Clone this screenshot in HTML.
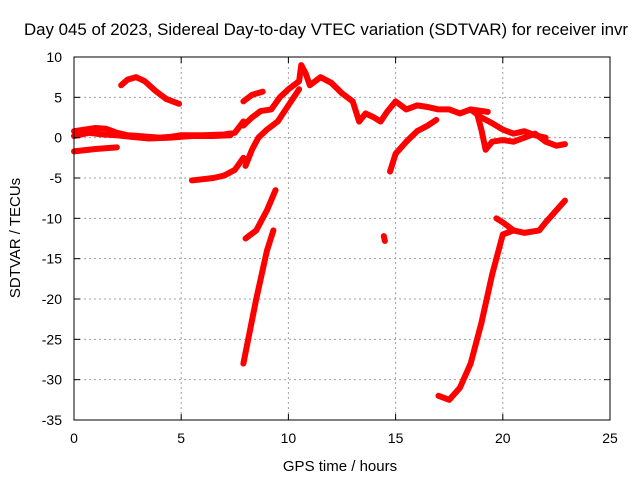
<!DOCTYPE html>
<html><head><meta charset="utf-8"><style>
body{margin:0;background:#fff;}
svg{display:block;font-family:"Liberation Sans",sans-serif;}
</style></head><body>
<svg id="chart" width="640" height="480">
<rect width="640" height="480" fill="#fff"/>
<text x="326" y="35" font-size="16.8" text-anchor="middle" textLength="604" lengthAdjust="spacingAndGlyphs">Day 045 of 2023, Sidereal Day-to-day VTEC variation (SDTVAR) for receiver invr</text>
<text x="340" y="471" font-size="15" text-anchor="middle">GPS time / hours</text>
<text transform="translate(20,238) rotate(-90)" font-size="15" text-anchor="middle">SDTVAR / TECUs</text>
<g id="grid"></g><g id="series"></g><g id="axes"></g>
</svg>
<script>
const xTicks=[0,5,10,15,20,25];
const yTicks=[10,5,0,-5,-10,-15,-20,-25,-30,-35];
const seg1=[[0,0.8],[0.5,1],[1,1.2],[1.5,1.1],[2,0.6],[2.5,0.3],[3,0.2],[3.5,0.1],[4,0],[4.5,0.1],[5,0.3],[6,0.3],[7,0.4],[7.5,0.6],[7.9,2]];
const seg2=[[0,0.2],[0.7,0.6],[1.3,0.4],[2,0.3],[2.7,0.1],[3.5,-0.1],[4.5,0],[5.5,0.2],[6.5,0.2],[7.3,0.3]];
const seg3=[[0,-1.7],[1,-1.4],[2,-1.2]];
const seg4=[[2.2,6.5],[2.5,7.2],[2.9,7.5],[3.3,7.0],[3.8,5.8],[4.3,4.8],[4.9,4.2]];
const seg5=[[5.5,-5.3],[6.5,-5],[7,-4.7],[7.5,-4],[7.9,-2.5]];
const seg6=[[7.9,4.5],[8.3,5.3],[8.8,5.7]];
const seg7=[[8,-3.5],[8.3,-1.5],[8.6,0],[9,1],[9.5,2],[10,4],[10.5,6]];
const seg8=[[7.9,1.5],[8.3,2.5],[8.7,3.3],[9.2,3.5],[9.6,5],[10,6],[10.5,7],[10.6,9],[10.8,8],[11,6.5],[11.5,7.5],[12,6.8],[12.5,5.5],[13,4.5],[13.3,2],[13.6,3],[14,2.5],[14.3,2],[14.6,3.2],[15,4.5],[15.5,3.5],[16,4],[16.5,3.8],[17,3.5],[17.5,3.5],[18,3],[18.5,3.5],[19.3,3.2]];
const seg9=[[14.74,-4.2],[15,-2],[15.5,-0.5],[16,0.8],[16.5,1.5],[16.9,2.2]];
const seg10=[[18.8,3],[19,1],[19.2,-1.5],[19.5,-0.5],[20,-0.3],[20.5,-0.5],[21,0],[21.5,0.5],[22,-0.5],[22.5,-1],[22.9,-0.8]];
const seg11=[[18.5,3.5],[19,2.5],[19.5,1.8],[20,1],[20.5,0.5],[21,0.8],[21.5,0.3],[22,0]];
const seg12=[[8,-12.5],[8.5,-11.5],[9,-9],[9.4,-6.5]];
const seg13=[[7.9,-28],[8.5,-20],[9,-14],[9.3,-11.5]];
const seg14=[[14.45,-12.2],[14.5,-12.8]];
const seg15=[[17,-32],[17.5,-32.5],[18,-31],[18.5,-28],[19,-23],[19.5,-17],[20,-12],[20.5,-11.5]];
const seg16=[[19.7,-10],[20,-10.5],[20.5,-11.5],[21,-11.8],[21.7,-11.5],[22,-10.5],[22.5,-9],[22.9,-7.8]];
const segments=[seg1,seg2,seg3,seg4,seg5,seg6,seg7,seg8,seg9,seg10,seg11,seg12,seg13,seg14,seg15,seg16];

const X0=74,X1=610,Y0=57,Y1=420;
const xs=v=>X0+(v-0)/(25-0)*(X1-X0);
const ys=v=>Y0+(10-v)/(10+35)*(Y1-Y0);
const NS="http://www.w3.org/2000/svg";
const grid=document.getElementById('grid'),axes=document.getElementById('axes'),ser=document.getElementById('series');
function mk(tag,attrs,parent){const e=document.createElementNS(NS,tag);for(const k in attrs)e.setAttribute(k,attrs[k]);parent.appendChild(e);return e;}
xTicks.forEach(t=>{
  const x=xs(t);
  if(t>0&&t<25){const g=mk('line',{x1:x,x2:x,y1:Y0,y2:Y1,stroke:'#a0a0a0','stroke-dasharray':'2,3'},grid);
  
  }
  mk('line',{x1:x,x2:x,y1:Y1,y2:Y1-6,stroke:'#000'},axes);
  mk('line',{x1:x,x2:x,y1:Y0,y2:Y0+6,stroke:'#000'},axes);
  const l=mk('text',{x:x,y:Y1+23,'font-size':14,'text-anchor':'middle'},axes);l.textContent=t;
  
  
});
yTicks.forEach(t=>{
  const y=ys(t);
  if(t<10&&t>-35){const g=mk('line',{x1:X0,x2:X1,y1:y,y2:y,stroke:'#a0a0a0','stroke-dasharray':'2,3'},grid);
  
  }
  mk('line',{x1:X0,x2:X0+6,y1:y,y2:y,stroke:'#000'},axes);
  mk('line',{x1:X1,x2:X1-6,y1:y,y2:y,stroke:'#000'},axes);
  const l=mk('text',{x:X0-12,y:y+5,'font-size':14,'text-anchor':'end'},axes);l.textContent=t;
  
  
});
const fr=mk('rect',{x:X0,y:Y0,width:X1-X0,height:Y1-Y0,fill:'none',stroke:'#000'},axes);


segments.forEach(s=>{
  const p=mk('polyline',{points:s.map(d=>xs(d[0])+','+ys(d[1])).join(' '),fill:'none',stroke:'#ff0000','stroke-width':6,'stroke-linejoin':'round','stroke-linecap':'round'},ser);
  
  
});
</script>
</body></html>
